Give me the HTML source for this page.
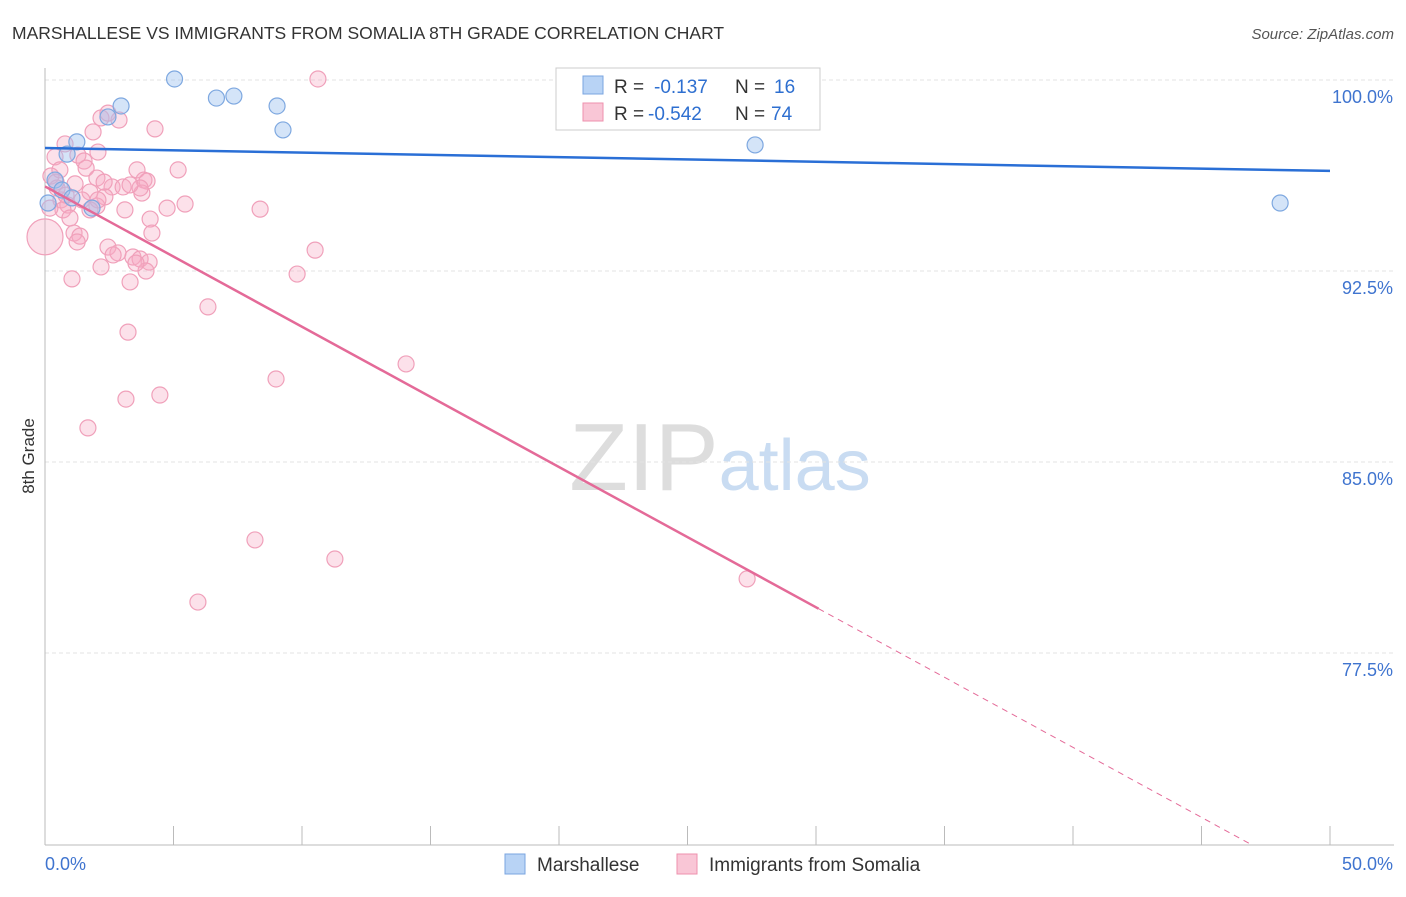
<!DOCTYPE html>
<html><head><meta charset="utf-8"><style>
body{margin:0;background:#fff;font-family:"Liberation Sans",sans-serif}
svg text{font-family:"Liberation Sans",sans-serif}
</style></head><body>
<svg id="c" width="1406" height="892">
<text x="12" y="39" font-size="17.5" fill="#333">MARSHALLESE VS IMMIGRANTS FROM SOMALIA 8TH GRADE CORRELATION CHART</text>
<text x="1394" y="39" font-size="15" fill="#555" text-anchor="end" font-style="italic">Source: ZipAtlas.com</text>
<text x="34" y="456" font-size="17" fill="#333" text-anchor="middle" transform="rotate(-90 34 456)">8th Grade</text>
<text x="720" y="490" font-size="96" fill="#ddd" text-anchor="middle" font-family="Liberation Serif">ZIP<tspan fill="#c9dcf2" font-family="Liberation Sans" font-size="72">atlas</tspan></text>
<g id="grid"></g><g id="pts"></g><g id="lines"></g>
<g>
<rect x="556" y="68" width="264" height="62" fill="#fff" stroke="#ccc"/>
<rect x="583" y="76" width="20" height="18" fill="#b8d3f5" stroke="#7aa5e0"/>
<rect x="583" y="103" width="20" height="18" fill="#f9c6d6" stroke="#ee90ad"/>
<text x="614" y="93" font-size="19" fill="#333">R =</text><text x="654" y="93" font-size="19" fill="#2e6fd0">-0.137</text>
<text x="735" y="93" font-size="19" fill="#333">N =</text><text x="774" y="93" font-size="19" fill="#2e6fd0">16</text>
<text x="614" y="120" font-size="19" fill="#333">R =</text><text x="648" y="120" font-size="19" fill="#2e6fd0">-0.542</text>
<text x="735" y="120" font-size="19" fill="#333">N =</text><text x="771" y="120" font-size="19" fill="#2e6fd0">74</text>
</g>
<g>
<rect x="505" y="854" width="20" height="20" fill="#b8d3f5" stroke="#7aa5e0"/>
<text x="537" y="871" font-size="19" fill="#333">Marshallese</text>
<rect x="677" y="854" width="20" height="20" fill="#f9c6d6" stroke="#ee90ad"/>
<text x="709" y="871" font-size="19" fill="#333">Immigrants from Somalia</text>
</g>
</svg>
<script>
const xTicksLabels=["0.0%","50.0%"];
const yTicks=[100,92.5,85,77.5];
const blueX=[5.04,6.67,7.35,2.96,2.45,9.03,9.26,1.24,0.86,0.39,0.66,1.05,1.83,0.12,27.63,48.06];
const blueY=[100.04,99.29,99.37,98.98,98.55,98.98,98.04,97.57,97.09,96.07,95.68,95.37,94.97,95.17,97.45,95.17];
const pinkPx=[[318,79],[101,118],[119,120],[155,129],[93,132],[65,144],[55,157],[98,152],[78,155],[84,161],[86,168],[137,170],[178,170],[51,176],[97,178],[144,180],[147,181],[75,184],[112,187],[123,187],[57,188],[90,192],[142,193],[105,197],[61,200],[68,205],[97,206],[185,204],[167,208],[125,210],[260,209],[63,210],[70,218],[150,219],[74,233],[152,233],[80,236],[77,242],[108,247],[118,253],[133,257],[140,259],[149,262],[315,250],[101,267],[146,271],[72,279],[130,282],[297,274],[208,307],[128,332],[406,364],[276,379],[160,395],[126,399],[88,428],[255,540],[335,559],[198,602],[747,579],[45,237],[60,170],[108,113],[98,200],[140,188],[113,255],[130,185],[82,200],[56,182],[66,195],[136,263],[50,208],[90,210],[104,182]];
const pinkX=pinkPx.map(p=>+((p[0]-45)/1285*50).toFixed(2));
const pinkY=pinkPx.map(p=>+(100-(p[1]-80)/191*7.5).toFixed(2));
const blueLine=[[0,97.33],[50,96.43]];
const pinkLine=[[0,95.82],[30.1,79.24],[46.9,70]];
const X=v=>45+v/50*1285, Y=v=>80+(100-v)/7.5*191;
const NS="http://www.w3.org/2000/svg";
function mk(t,a,p){const e=document.createElementNS(NS,t);for(const k in a)e.setAttribute(k,a[k]);document.getElementById(p).appendChild(e);return e;}
yTicks.forEach(v=>{
 const l=mk('line',{x1:45,x2:1394,y1:Y(v),y2:Y(v),stroke:'#e3e3e3','stroke-dasharray':'4,3'},'grid');
 
 
 const t=mk('text',{x:1393,y:Y(v)+23,'font-size':18,fill:'#3f74cf','text-anchor':'end'},'grid');t.textContent=v.toFixed(1)+'%';
 
 
});
mk('line',{x1:45,x2:45,y1:68,y2:845,stroke:'#bbb'},'grid');
mk('line',{x1:45,x2:1394,y1:845,y2:845,stroke:'#bbb'},'grid');
for(let i=0;i<=10;i++){mk('line',{x1:X(i*5),x2:X(i*5),y1:826,y2:845,stroke:'#bbb'},'grid');}
[[0,45,'start'],[1,1393,'end']].forEach(([i,x,a])=>{const t=mk('text',{x:x,y:870,'font-size':18,fill:'#3f74cf','text-anchor':a},'grid');t.textContent=xTicksLabels[i];
 
 });
pinkX.forEach((x,i)=>{const c=mk('circle',{cx:X(x),cy:Y(pinkY[i]),r:i==60?18:8,fill:'rgba(246,170,196,0.35)',stroke:'#f0a0ba','stroke-width':1.2},'pts');
 
 });
blueX.forEach((x,i)=>{const c=mk('circle',{cx:X(x),cy:Y(blueY[i]),r:8,fill:'rgba(160,196,240,0.45)',stroke:'#7ea8e0','stroke-width':1.2},'pts');
 
 });
let l=mk('line',{x1:X(blueLine[0][0]),y1:Y(blueLine[0][1]),x2:X(blueLine[1][0]),y2:Y(blueLine[1][1]),stroke:'#2a6fd6','stroke-width':2.5},'lines');


l=mk('line',{x1:X(pinkLine[0][0]),y1:Y(pinkLine[0][1]),x2:X(pinkLine[1][0]),y2:Y(pinkLine[1][1]),stroke:'#e46a98','stroke-width':2.5},'lines');


l=mk('line',{x1:X(pinkLine[1][0]),y1:Y(pinkLine[1][1]),x2:X(pinkLine[2][0]),y2:Y(pinkLine[2][1]),stroke:'#e46a98','stroke-width':1,'stroke-dasharray':'6,5'},'lines');


</script>
</body></html>
